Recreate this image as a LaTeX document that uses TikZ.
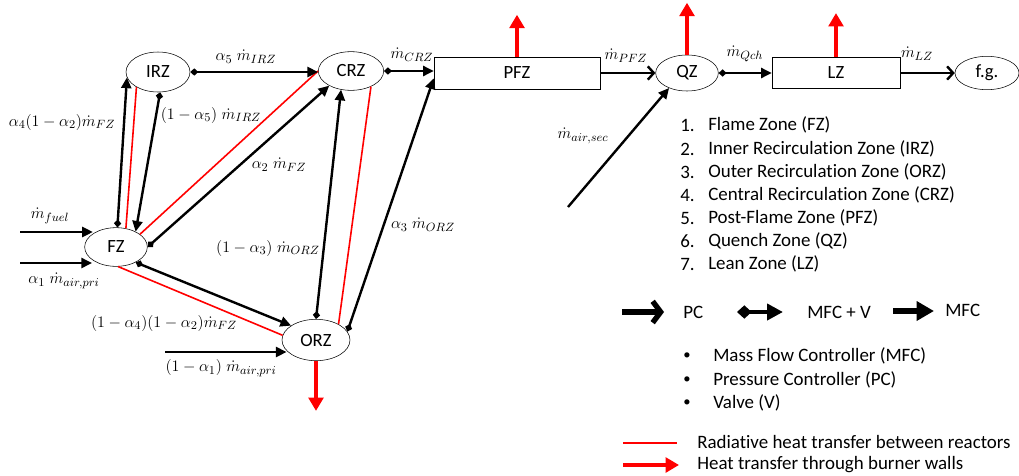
\documentclass[tikz,border=0pt]{standalone}
\usepackage{fontspec}
\setmainfont{Carlito}[Ligatures=NoCommon]
\usetikzlibrary{arrows.meta,shapes.geometric}

\tikzset{
  zone/.style={draw, ellipse, inner sep=0pt, font=\fontsize{14}{16}\selectfont},
  reactor/.style={draw, rectangle, inner sep=0pt, font=\fontsize{14}{16}\selectfont},
  flow/.style={line width=1.8pt},
  mfc/.style={flow, -{Triangle[length=8pt,width=7.5pt]}},
  mfcv/.style={flow, {Diamond[length=6pt,width=5.5pt]}-{Triangle[length=8pt,width=7.5pt]}},
  pc/.style={flow, -{Straight Barb[length=4.5pt,width=10pt]}},
  rad/.style={red, line width=1.2pt},
  heat/.style={red, line width=3.6pt, -{Triangle[length=10pt,width=11pt]}},
  lbl/.style={font=\fontsize{13}{15}\selectfont, inner sep=0pt},
  legtext/.style={anchor=west, inner sep=0pt, font=\fontsize{14.2}{16}\selectfont},
}

\begin{document}
\begin{tikzpicture}[x=0.75pt,y=-0.75pt]
  \useasboundingbox (0,0) rectangle (1019,475);

  % reactors
  \node[zone, minimum width=48pt, minimum height=30pt] (irz) at (158,72) {IRZ};
  \node[zone, minimum width=49pt, minimum height=29pt] (crz) at (351,71) {CRZ};
  \node[zone, minimum width=47pt, minimum height=29pt] (fz) at (116,247) {FZ};
  \node[zone, minimum width=51pt, minimum height=31pt] (orz) at (316,340) {ORZ};
  \node[reactor, minimum width=124.5pt, minimum height=24pt] (pfz) at (517,73) {PFZ};
  \node[zone, minimum width=47pt, minimum height=27pt] (qz) at (687,73) {QZ};
  \node[reactor, minimum width=96pt, minimum height=23.5pt] (lz) at (836,73) {LZ};
  \node[zone, minimum width=48pt, minimum height=25pt] (fg) at (987,73) {f.g.};

  % inlets
  \coordinate (fuel) at (20,232);
  \coordinate (airpri) at (20,263);
  \coordinate (airorz) at (165,352);
  \coordinate (airsec) at (568,207);
  \draw[mfc] (fuel) -- (fuel -| fz.150);
  \draw[mfc] (airpri) -- (airpri -| fz.208);
  \draw[mfc] (airorz) -- (airorz -| orz.200);
  \draw[mfc] (airsec) -- (qz.220);
  \node[lbl] (lfuel) at (50,216) {$\dot m_{fuel}$};
  \node[lbl] (lairpri) at (64,281) {$\alpha_1\;\dot m_{air,pri}$};
  \node[lbl] (lairorz) at (221,368) {$(1-\alpha_1)\;\dot m_{air,pri}$};
  \node[lbl] (lairsec) at (583,136) {$\dot m_{air,sec}$};

  % radiation between reactors
  \draw[rad] (fz.62) -- (irz.215);
  \draw[rad] (fz.28) -- (crz.180);
  \draw[rad] (fz.276) -- (orz.172);
  \draw[rad] (orz.35) -- (crz.322);

  % mass flows
  \draw[mfcv] (fz.86) -- (irz.190);
  \draw[mfcv] (irz.276) -- (fz.38);
  \draw[mfcv] (irz.east) -- (irz.east -| crz.west);
  \draw[mfcv] (fz.east) -- (crz.214);
  \draw[mfcv] (fz.322) -- (orz.150);
  \draw[mfcv] (orz.north) -- (crz.242);
  \draw[mfcv] (orz.15) -- ([yshift=-4pt]pfz.west);
  \draw[mfcv] (crz.east) -- (crz.east -| pfz.west);
  \draw[pc] (pfz.east) -- (qz.west);
  \draw[mfcv] (qz.east) -- (lz.west);
  \draw[pc] (lz.east) -- (fg.west);

  \node[lbl] (l1) at (62,122) {$\alpha_4(1-\alpha_2)\dot m_{FZ}$};
  \node[lbl] (l2) at (211,115) {$(1-\alpha_5)\;\dot m_{IRZ}$};
  \node[lbl] (l3) at (246,57) {$\alpha_5\;\dot m_{IRZ}$};
  \node[lbl] (l4) at (279,165) {$\alpha_2\;\dot m_{FZ}$};
  \node[lbl] (l5) at (164,323) {$(1-\alpha_4)(1-\alpha_2)\dot m_{FZ}$};
  \node[lbl] (l6) at (268,248) {$(1-\alpha_3)\;\dot m_{ORZ}$};
  \node[lbl] (l7) at (423,225) {$\alpha_3\;\dot m_{ORZ}$};
  \node[lbl] (l8) at (412,55) {$\dot m_{CRZ}$};
  \node[lbl] (l9) at (626,56) {$\dot m_{PFZ}$};
  \node[lbl] (l10) at (745,54) {$\dot m_{Qch}$};
  \node[lbl] (l11) at (917,54) {$\dot m_{LZ}$};

  % heat loss through walls
  \draw[heat] (pfz.north) -- ++(0,-42);
  \draw[heat] (qz.north) -- ++(0,-52);
  \draw[heat] (lz.north) -- ++(0,-44);
  \draw[heat] (orz.south) -- ++(0,50);

  % legend: zones
  \node[legtext] (n1) at (680,125) {1.};
  \node[legtext] (z1) at (708,125) {Flame Zone (FZ)};
  \node[legtext] (n2) at (680,149) {2.};
  \node[legtext] (z2) at (708,149) {Inner Recirculation Zone (IRZ)};
  \node[legtext] (n3) at (680,172) {3.};
  \node[legtext] (z3) at (708,172) {Outer Recirculation Zone (ORZ)};
  \node[legtext] (n4) at (680,195) {4.};
  \node[legtext] (z4) at (708,195) {Central Recirculation Zone (CRZ)};
  \node[legtext] (n5) at (680,218) {5.};
  \node[legtext] (z5) at (708,218) {Post-Flame Zone (PFZ)};
  \node[legtext] (n6) at (680,241) {6.};
  \node[legtext] (z6) at (708,241) {Quench Zone (QZ)};
  \node[legtext] (n7) at (680,264) {7.};
  \node[legtext] (z7) at (708,264) {Lean Zone (LZ)};

  % legend: controllers
  \coordinate (pcA) at (622,312);
  \coordinate (pcB) at (664,312);
  \draw[line width=4pt, -{Straight Barb[length=6pt,width=16pt]}] (pcA) -- (pcB);
  \node[legtext] (tpc) at (683,312) {PC};
  \coordinate (mvA) at (737,312);
  \coordinate (mvB) at (783,312);
  \draw[line width=3.5pt, {Diamond[length=11pt,width=10pt]}-{Triangle[length=12pt,width=12pt]}] (mvA) -- (mvB);
  \node[legtext] (tmv) at (807,312) {MFC + V};
  \coordinate (mfA) at (893,311);
  \coordinate (mfB) at (934,311);
  \draw[line width=4.5pt, -{Triangle[length=13pt,width=14pt]}] (mfA) -- (mfB);
  \node[legtext] (tmf) at (945,310) {MFC};

  \node[legtext, font=\fontsize{11}{12}\selectfont] (b1) at (683,356) {\textbullet};
  \node[legtext] (c1) at (713,356) {Mass Flow Controller (MFC)};
  \node[legtext, font=\fontsize{11}{12}\selectfont] (b2) at (683,380) {\textbullet};
  \node[legtext] (c2) at (713,380) {Pressure Controller (PC)};
  \node[legtext, font=\fontsize{11}{12}\selectfont] (b3) at (683,403) {\textbullet};
  \node[legtext] (c3) at (713,403) {Valve (V)};

  % legend: heat transfer
  \coordinate (radA) at (623,443);
  \coordinate (radB) at (677,443);
  \draw[red, line width=1.5pt] (radA) -- (radB);
  \node[legtext] (trad) at (697,442) {Radiative heat transfer between reactors};
  \coordinate (htA) at (623,465);
  \coordinate (htB) at (679,465);
  \draw[heat] (htA) -- (htB);
  \node[legtext] (tht) at (697,465) {Heat transfer through burner walls};
\end{tikzpicture}
\end{document}
